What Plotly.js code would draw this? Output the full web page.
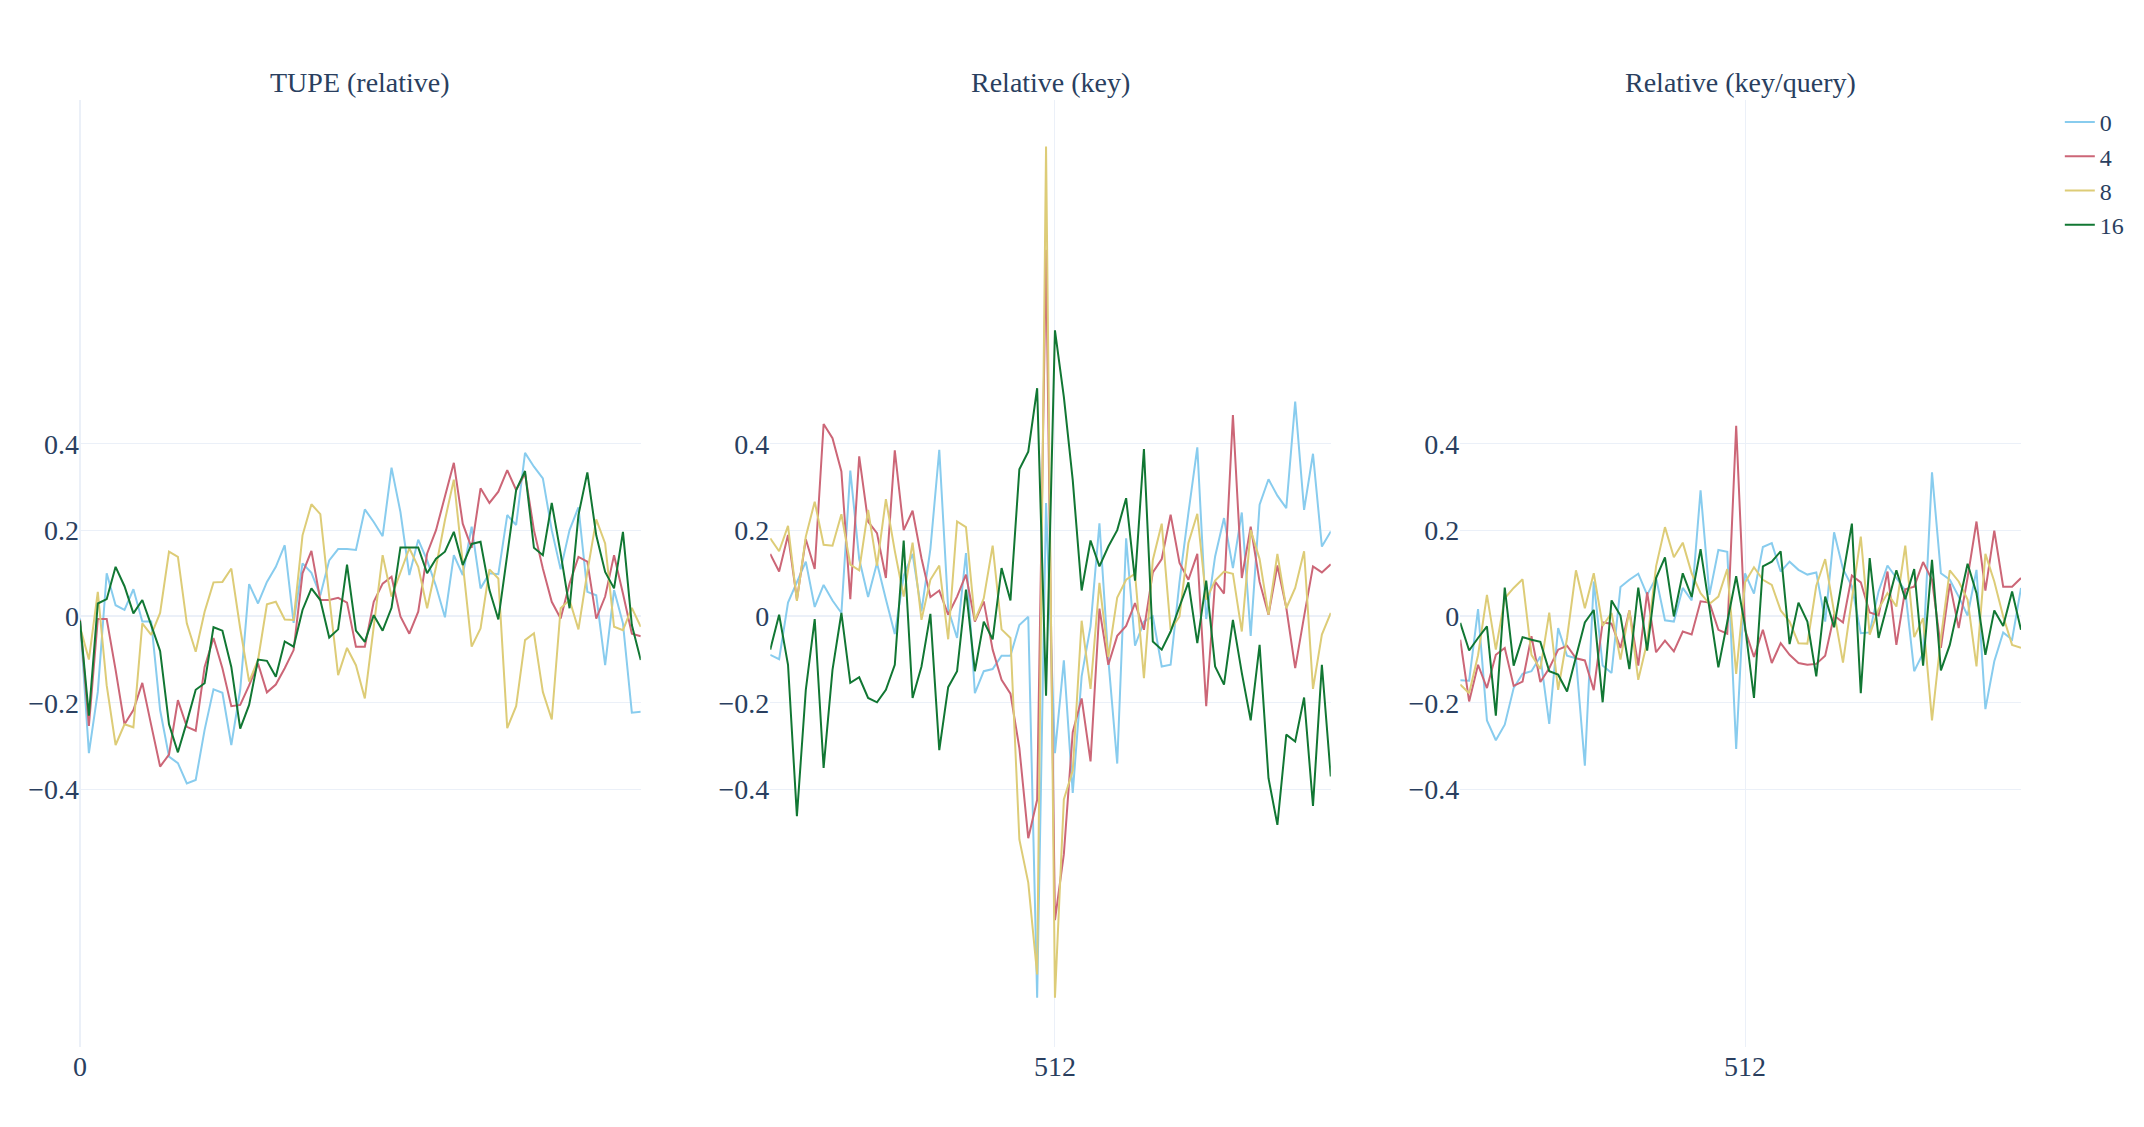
<!DOCTYPE html>
<html>
<head>
<meta charset="utf-8">
<script src="https://cdn.plot.ly/plotly-3.0.1.min.js"></script>
<style>
  html, body { margin: 0; padding: 0; background: #fff; }
  #chart { width: 2144px; height: 1127px; }
</style>
</head>
<body>
<div id="chart"></div>
<script>
// panel titles and series names
const panelTitles = ["TUPE (relative)", "Relative (key)", "Relative (key/query)"];
const seriesNames = ["0", "4", "8", "16"];
const seriesColors = ["#88CCEE", "#CC6677", "#DDCC77", "#117733"];

// x positions: first panel starts at 0, the two others are centred on 512
const xTupe = Array.from({ length: 64 }, (_, i) => i);
const xRel = Array.from({ length: 64 }, (_, i) => 480 + i);
const xTickTupe = [0];
const xTickRel = [512];
const yTicks = [-0.4, -0.2, 0, 0.2, 0.4];

// TUPE (relative)
const tupe0 = [-0.005, -0.317, -0.175, 0.1, 0.026, 0.015, 0.063, -0.012, -0.012, -0.217, -0.325, -0.34, -0.387, -0.379, -0.263, -0.169,
  -0.177, -0.298, -0.17, 0.075, 0.03, 0.08, 0.115, 0.165, -0.015, 0.123, 0.101, 0.049, 0.13, 0.156, 0.156, 0.154,
  0.248, 0.219, 0.186, 0.345, 0.242, 0.096, 0.178, 0.13, 0.07, -0.002, 0.142, 0.096, 0.208, 0.065, 0.1, 0.098,
  0.235, 0.212, 0.379, 0.347, 0.32, 0.2, 0.109, 0.2, 0.253, 0.057, 0.049, -0.113, 0.061, -0.016, -0.223, -0.221];
const tupe4 = [-0.008, -0.254, -0.006, -0.006, -0.124, -0.25, -0.217, -0.154, -0.252, -0.348, -0.32, -0.194, -0.256, -0.265, -0.117, -0.05,
  -0.12, -0.208, -0.205, -0.16, -0.109, -0.176, -0.158, -0.12, -0.078, 0.1, 0.152, 0.038, 0.038, 0.043, 0.032, -0.07,
  -0.07, 0.034, 0.076, 0.092, 0, -0.04, 0.011, 0.146, 0.2, 0.279, 0.356, 0.215, 0.159, 0.297, 0.263, 0.289,
  0.339, 0.293, 0.331, 0.2, 0.111, 0.034, -0.005, 0.076, 0.138, 0.127, -0.005, 0.046, 0.142, 0.053, -0.04, -0.046];
const tupe8 = [-0.024, -0.1, 0.057, -0.16, -0.298, -0.25, -0.257, -0.016, -0.043, 0.008, 0.15, 0.138, -0.016, -0.082, 0.011, 0.079,
  0.08, 0.111, -0.028, -0.151, -0.101, 0.028, 0.034, -0.007, -0.008, 0.188, 0.26, 0.237, 0.046, -0.136, -0.073, -0.113,
  -0.19, -0.024, 0.142, 0.046, 0.103, 0.158, 0.115, 0.019, 0.115, 0.223, 0.317, 0.123, -0.07, -0.028, 0.109, 0.088,
  -0.259, -0.208, -0.055, -0.039, -0.175, -0.239, 0.019, 0.038, -0.03, 0.103, 0.225, 0.169, -0.024, -0.032, 0.02, -0.024];
const tupe16 = [-0.01, -0.23, 0.03, 0.04, 0.115, 0.07, 0.007, 0.038, -0.02, -0.08, -0.25, -0.315, -0.245, -0.17, -0.155, -0.025,
  -0.033, -0.117, -0.26, -0.205, -0.1, -0.103, -0.14, -0.058, -0.07, 0.015, 0.065, 0.038, -0.049, -0.03, 0.12, -0.033,
  -0.059, 0.003, -0.033, 0.02, 0.16, 0.16, 0.16, 0.1, 0.134, 0.15, 0.196, 0.119, 0.168, 0.173, 0.061, -0.007,
  0.146, 0.293, 0.337, 0.159, 0.142, 0.263, 0.146, 0.019, 0.235, 0.334, 0.188, 0.103, 0.065, 0.196, -0.02, -0.101];

// Relative (key)
const key0 = [-0.089, -0.099, 0.032, 0.079, 0.127, 0.022, 0.073, 0.037, 0.008, 0.338, 0.133, 0.045, 0.124, 0.04, -0.041, 0.094,
  0.145, 0.012, 0.156, 0.386, 0.017, -0.05, 0.147, -0.178, -0.127, -0.122, -0.091, -0.091, -0.02, -0.001, -0.884, 0.263,
  -0.317, -0.102, -0.409, -0.139, -0.023, 0.216, -0.1, -0.341, 0.181, -0.068, -0.012, 0, -0.116, -0.112, 0.08, 0.24,
  0.392, -0.006, 0.139, 0.228, 0.112, 0.241, -0.045, 0.259, 0.318, 0.28, 0.251, 0.498, 0.247, 0.377, 0.162, 0.197];
const key4 = [0.145, 0.104, 0.189, 0.039, 0.179, 0.11, 0.446, 0.413, 0.336, 0.04, 0.371, 0.22, 0.193, 0.089, 0.385, 0.2,
  0.245, 0.135, 0.045, 0.06, 0.004, 0.046, 0.097, -0.012, 0.035, -0.077, -0.147, -0.179, -0.305, -0.514, -0.425, 0.85,
  -0.704, -0.551, -0.268, -0.19, -0.336, 0.018, -0.112, -0.045, -0.022, 0.031, -0.031, 0.102, 0.133, 0.236, 0.124, 0.085,
  0.145, -0.208, 0.081, 0.053, 0.467, 0.089, 0.208, 0.08, 0.004, 0.118, 0.02, -0.12, 0, 0.116, 0.102, 0.121];
const key8 = [0.181, 0.151, 0.21, 0.036, 0.185, 0.266, 0.166, 0.164, 0.237, 0.12, 0.107, 0.247, 0.117, 0.272, 0.152, 0.046,
  0.171, -0.008, 0.085, 0.118, -0.053, 0.22, 0.207, -0.009, 0.042, 0.164, -0.03, -0.05, -0.517, -0.617, -0.83, 1.089,
  -0.884, -0.424, -0.357, -0.01, -0.168, 0.078, -0.094, 0.044, 0.085, 0.099, -0.143, 0.131, 0.215, -0.031, 0, 0.17,
  0.238, 0.039, 0.083, 0.104, 0.099, -0.035, 0.2, 0.133, 0.004, 0.145, 0.019, 0.066, 0.151, -0.168, -0.042, 0.008];
const key16 = [-0.077, 0.004, -0.112, -0.463, -0.17, -0.006, -0.351, -0.124, 0.008, -0.154, -0.141, -0.189, -0.199, -0.17, -0.112, 0.176,
  -0.189, -0.116, 0.006, -0.31, -0.164, -0.127, 0.062, -0.127, -0.012, -0.053, 0.112, 0.037, 0.341, 0.382, 0.529, -0.184,
  0.663, 0.509, 0.316, 0.06, 0.176, 0.116, 0.162, 0.2, 0.274, 0.083, 0.388, -0.058, -0.077, -0.035, 0.023, 0.079,
  -0.062, 0.083, -0.116, -0.158, -0.008, -0.131, -0.241, -0.066, -0.375, -0.483, -0.274, -0.29, -0.188, -0.439, -0.112, -0.371];

// Relative (key/query)
const kq0 = [-0.148, -0.149, 0.017, -0.241, -0.287, -0.251, -0.166, -0.133, -0.127, -0.093, -0.249, -0.027, -0.091, -0.097, -0.346, 0.081,
  -0.114, -0.131, 0.068, 0.085, 0.099, 0.05, 0.09, -0.009, -0.012, 0.066, 0.037, 0.292, 0.05, 0.154, 0.15, -0.307,
  0.1, 0.053, 0.161, 0.17, 0.104, 0.127, 0.108, 0.097, 0.102, -0.012, 0.195, 0.11, 0.07, -0.039, -0.037, 0.058,
  0.118, 0.09, 0.06, -0.127, -0.085, 0.334, 0.1, 0.085, 0.046, 0.002, 0.108, -0.215, -0.104, -0.037, -0.054, 0.066];
const kq4 = [-0.054, -0.197, -0.112, -0.166, -0.089, -0.073, -0.161, -0.151, -0.046, -0.152, -0.12, -0.077, -0.068, -0.097, -0.102, -0.171,
  -0.014, -0.017, -0.073, 0.014, -0.114, 0.056, -0.083, -0.056, -0.081, -0.035, -0.042, 0.035, 0.032, -0.031, -0.04, 0.442,
  -0.031, -0.094, -0.031, -0.108, -0.062, -0.089, -0.108, -0.112, -0.11, -0.091, 0.002, -0.014, 0.095, 0.079, 0.009, 0.002,
  0.104, -0.066, 0.063, 0.069, 0.126, 0.085, -0.073, 0.076, -0.027, 0.09, 0.22, 0.06, 0.199, 0.069, 0.069, 0.089];
const kq8 = [-0.158, -0.178, -0.09, 0.05, -0.077, 0.042, 0.066, 0.086, -0.089, -0.122, 0.009, -0.17, -0.05, 0.107, 0.019, 0.1,
  -0.022, 0.008, -0.1, 0.014, -0.147, -0.06, 0.116, 0.207, 0.137, 0.171, 0.1, 0.054, 0.029, 0.046, 0.11, -0.133,
  0.079, 0.114, 0.085, 0.073, 0.014, -0.012, -0.062, -0.063, 0.071, 0.133, 0.01, -0.107, 0.04, 0.185, -0.042, 0.017,
  0.054, 0.023, 0.164, -0.048, -0.004, -0.241, -0.05, 0.107, 0.081, 0.039, -0.116, 0.145, 0.081, 0, -0.066, -0.073];
const kq16 = [-0.015, -0.079, -0.05, -0.023, -0.23, 0.067, -0.114, -0.048, -0.054, -0.059, -0.127, -0.135, -0.174, -0.095, -0.014, 0.015,
  -0.199, 0.037, 0.002, -0.122, 0.067, -0.079, 0.089, 0.137, 0, 0.1, 0.045, 0.156, 0.02, -0.118, -0.013, 0.093,
  -0.023, -0.189, 0.116, 0.127, 0.151, -0.064, 0.032, -0.012, -0.139, 0.046, -0.025, 0.094, 0.215, -0.178, 0.135, -0.05,
  0.028, 0.107, 0.04, 0.11, -0.114, 0.131, -0.125, -0.066, 0.028, 0.122, 0.054, -0.089, 0.014, -0.022, 0.058, -0.031];

const panels = [
  { x: xTupe, ticks: xTickTupe, series: [tupe0, tupe4, tupe8, tupe16] },
  { x: xRel, ticks: xTickRel, series: [key0, key4, key8, key16] },
  { x: xRel, ticks: xTickRel, series: [kq0, kq4, kq8, kq16] },
];

const FONT = "Liberation Serif";
const TEXT = "#2a3f5f";
const GRID = "#EBF0F8";

const domains = [[0, 0.2889], [0.3556, 0.6444], [0.7111, 1]];

const traces = [];
panels.forEach((p, k) => {
  const sfx = k === 0 ? "" : String(k + 1);
  p.series.forEach((ys, s) => {
    traces.push({
      type: "scatter",
      mode: "lines",
      x: p.x,
      y: ys,
      name: seriesNames[s],
      showlegend: k === 0,
      line: { color: seriesColors[s], width: 2 },
      xaxis: "x" + sfx,
      yaxis: "y" + sfx,
    });
  });
});

const layout = {
  width: 2144,
  height: 1127,
  margin: { l: 80, r: 123, t: 100, b: 80 },
  paper_bgcolor: "#fff",
  plot_bgcolor: "#fff",
  font: { family: FONT, size: 28, color: TEXT },
  showlegend: true,
  legend: { x: 1.02, y: 1, tracegroupgap: 0, font: { family: FONT, size: 24, color: TEXT } },
  annotations: panelTitles.map((t, k) => ({
    text: t,
    xref: "paper",
    yref: "paper",
    x: (domains[k][0] + domains[k][1]) / 2,
    y: 1,
    xanchor: "center",
    yanchor: "bottom",
    showarrow: false,
    font: { family: FONT, size: 28, color: TEXT },
  })),
};

panels.forEach((p, k) => {
  const sfx = k === 0 ? "" : String(k + 1);
  layout["xaxis" + sfx] = {
    domain: domains[k],
    anchor: "y" + sfx,
    tickmode: "array",
    tickvals: p.ticks,
    tickfont: { family: FONT, size: 28, color: TEXT },
    showgrid: true,
    gridcolor: GRID,
    zeroline: true,
    zerolinecolor: GRID,
    zerolinewidth: 2,
    showline: false,
    ticks: "",
  };
  layout["yaxis" + sfx] = {
    anchor: "x" + sfx,
    range: [-0.998, 1.197],
    tickmode: "array",
    tickvals: yTicks,
    tickfont: { family: FONT, size: 28, color: TEXT },
    showgrid: true,
    gridcolor: GRID,
    zeroline: true,
    zerolinecolor: GRID,
    zerolinewidth: 2,
    showline: false,
    ticks: "",
  };
});

Plotly.newPlot("chart", traces, layout, { staticPlot: true, displayModeBar: false });
</script>
</body>
</html>
